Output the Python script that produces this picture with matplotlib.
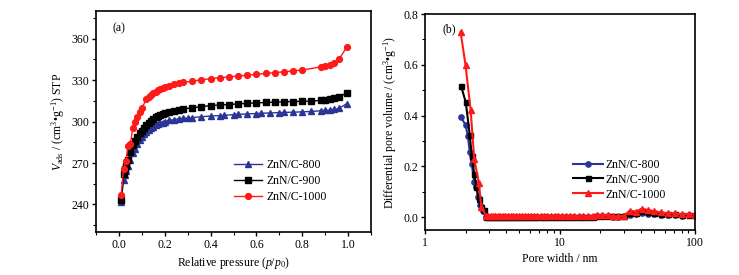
import matplotlib
matplotlib.use("Agg")
import matplotlib.pyplot as plt
from matplotlib.ticker import MultipleLocator, FixedLocator, FixedFormatter, LogLocator, NullFormatter

plt.rcParams["font.family"] = ["Liberation Serif", "DejaVu Serif"]
plt.rcParams["mathtext.fontset"] = "custom"
plt.rcParams["mathtext.rm"] = "Liberation Serif"
plt.rcParams["mathtext.it"] = "Liberation Serif:italic"
FS = 8.5

# ---- (a) N2 adsorption isotherms ----
p_800 = [0.01, 0.02, 0.025, 0.03, 0.04, 0.05, 0.06, 0.07, 0.08, 0.09, 0.10, 0.11,
         0.12, 0.13, 0.14, 0.15, 0.16, 0.17, 0.18, 0.19, 0.20, 0.22, 0.24, 0.26,
         0.28, 0.30, 0.32, 0.36, 0.40, 0.44, 0.46, 0.50, 0.52, 0.56, 0.60, 0.62,
         0.66, 0.70, 0.72, 0.76, 0.80, 0.84, 0.88, 0.90, 0.92, 0.94, 0.96, 0.995]
v_800 = [242, 258, 261, 264, 268, 272, 277, 280, 283.5, 286.5, 289, 291,
         292.5, 294, 295.3, 296.3, 297.2, 298, 298.7, 299.3, 299.8, 300.8, 301.4, 302,
         302.3, 302.5, 302.8, 303.5, 304, 304.3, 304.5, 305, 305.2, 305.5, 305.8, 306,
         306.2, 306.5, 306.6, 306.8, 307, 307.3, 307.8, 308, 308.3, 308.8, 309.5, 313]

p_900 = [0.01, 0.02, 0.025, 0.03, 0.04, 0.05, 0.06, 0.07, 0.08, 0.09, 0.10, 0.11,
         0.12, 0.13, 0.14, 0.15, 0.16, 0.17, 0.18, 0.19, 0.20, 0.22, 0.24, 0.26,
         0.28, 0.32, 0.36, 0.40, 0.44, 0.48, 0.52, 0.56, 0.60, 0.64, 0.68, 0.72,
         0.76, 0.80, 0.84, 0.88, 0.90, 0.92, 0.94, 0.96, 0.995]
v_900 = [243, 262, 266, 268, 272, 278, 283, 286, 289, 291.5, 293.5, 295.5,
         297.5, 299, 300.5, 302, 303, 304, 304.8, 305.5, 306, 307, 307.8, 308.5,
         309, 310, 310.8, 311.5, 312, 312.3, 312.8, 313.2, 313.5, 313.8, 314, 314.3,
         314.5, 314.6, 314.8, 315.3, 315.8, 316.3, 316.8, 317.5, 321]

p_1000 = [0.01, 0.02, 0.03, 0.04, 0.05, 0.06, 0.07, 0.08, 0.09, 0.10, 0.12, 0.13,
          0.14, 0.15, 0.16, 0.17, 0.18, 0.19, 0.20, 0.22, 0.24, 0.26, 0.28, 0.32,
          0.36, 0.40, 0.44, 0.48, 0.52, 0.56, 0.60, 0.64, 0.68, 0.72, 0.76, 0.80,
          0.88, 0.90, 0.92, 0.94, 0.96, 0.995]
v_1000 = [247, 266, 271.5, 282, 284, 295, 300, 303, 307, 310, 316, 317.5,
          319, 320.5, 321.5, 322.5, 323.5, 324.3, 325, 326, 327, 327.8, 328.3, 329.2,
          330.2, 331, 331.8, 332.3, 333, 333.5, 334.2, 334.8, 335.4, 336, 336.7, 337.3,
          339.5, 340.3, 341.2, 342.5, 345, 354]

# ---- (b) pore size distribution ----
pw_tail = [2.85, 2.96, 3.08, 3.2, 3.33, 3.47, 3.62, 3.78, 3.95, 4.13, 4.32, 4.52,
           4.74, 4.97, 5.22, 5.49, 5.78, 6.1, 6.44, 6.8, 7.2, 7.63, 8.1, 8.6, 9.15,
           9.75, 10.4, 11.1, 11.9, 12.8, 13.8, 14.9, 16.1, 17.5, 19.0, 20.7, 22.6,
           24.8, 27.2, 30.0, 33.1, 36.6, 40.6, 45.1, 50.3, 56.3, 63.2, 71.2, 80.5,
           91.3, 100]

pw_800_head = [1.84, 2.0, 2.08, 2.15, 2.22, 2.32, 2.4, 2.48, 2.57, 2.68]
dv_800_head = [0.395, 0.364, 0.32, 0.258, 0.21, 0.14, 0.12, 0.08, 0.05, 0.025]
dv_800_tail = [0.001, 0.001, 0.001, 0.001, 0.001, 0.001, 0.001, 0.001, 0.001, 0.001,
               0.001, 0.001, 0.001, 0.001, 0.001, 0.001, 0.001, 0.001, 0.001, 0.001,
               0.001, 0.001, 0.001, 0.001, 0.001, 0.001, 0.001, 0.001, 0.001, 0.001,
               0.001, 0.001, 0.001, 0.001, 0.003, 0.005, 0.004, 0.002, 0.002, 0.003,
               0.010, 0.011, 0.015, 0.013, 0.011, 0.009, 0.008, 0.008, 0.006, 0.007,
               0.006]

pw_900_head = [1.85, 2.01, 2.15, 2.23, 2.32, 2.41, 2.5, 2.62, 2.76]
dv_900_head = [0.518, 0.452, 0.322, 0.24, 0.17, 0.12, 0.07, 0.04, 0.03]
dv_900_tail = [0.002, 0.002, 0.002, 0.002, 0.002, 0.002, 0.002, 0.002, 0.002, 0.002,
               0.002, 0.002, 0.002, 0.002, 0.002, 0.002, 0.002, 0.002, 0.002, 0.002,
               0.002, 0.002, 0.002, 0.002, 0.002, 0.002, 0.002, 0.002, 0.002, 0.002,
               0.002, 0.002, 0.002, 0.002, 0.004, 0.006, 0.005, 0.003, 0.003, 0.004,
               0.017, 0.016, 0.024, 0.021, 0.017, 0.014, 0.011, 0.012, 0.009, 0.010,
               0.008]

pw_1000_head = [1.84, 2.0, 2.18, 2.32, 2.51, 2.62]
dv_1000_head = [0.728, 0.599, 0.424, 0.23, 0.135, 0.04]
dv_1000_tail = [0.004, 0.004, 0.004, 0.004, 0.004, 0.004, 0.004, 0.004, 0.004, 0.004,
                0.004, 0.004, 0.004, 0.004, 0.004, 0.004, 0.004, 0.004, 0.004, 0.004,
                0.004, 0.004, 0.004, 0.004, 0.004, 0.004, 0.004, 0.004, 0.004, 0.004,
                0.004, 0.004, 0.004, 0.004, 0.007, 0.009, 0.008, 0.004, 0.004, 0.006,
                0.026, 0.022, 0.034, 0.028, 0.023, 0.019, 0.015, 0.016, 0.011, 0.013,
                0.010]

BLUE = "#2a3596"
RED = "#ff1a1a"
BLACK = "#000000"

fig = plt.figure(figsize=(7.39, 2.75), dpi=100)
ax1 = fig.add_axes([0.130, 0.156, 0.372, 0.804])
ax2 = fig.add_axes([0.575, 0.164, 0.365, 0.785])

for ax in (ax1, ax2):
    for s in ax.spines.values():
        s.set_linewidth(1.2)
    ax.tick_params(which="major", direction="out", length=3, width=1, labelsize=FS, pad=2)
    ax.tick_params(which="minor", direction="out", length=2, width=0.8)

# (a)
ax1.plot(p_800, v_800, color=BLUE, marker="^", ms=4.2, lw=1.0, label="ZnN/C-800")
ax1.plot(p_900, v_900, color=BLACK, marker="s", ms=3.8, lw=1.0, label="ZnN/C-900")
ax1.plot(p_1000, v_1000, color=RED, marker="o", ms=4.2, lw=1.0, label="ZnN/C-1000")
ax1.set_xlim(-0.1, 1.1)
ax1.set_ylim(220, 380)
ax1.xaxis.set_minor_locator(MultipleLocator(0.1))
ax1.yaxis.set_major_locator(MultipleLocator(30))
ax1.yaxis.set_minor_locator(MultipleLocator(15))
ax1.set_xticks([0.0, 0.2, 0.4, 0.6, 0.8, 1.0])
ax1.set_xticklabels(["0.0", "0.2", "0.4", "0.6", "0.8", "1.0"])
ax1.set_xlabel("Relative pressure ($p$/$p_0$)", fontsize=FS, labelpad=3)
ax1.set_ylabel("$V_{\\rm ads}$ / (cm$^3$\u2022g$^{-1}$) STP", fontsize=FS, labelpad=3)
ax1.text(0.058, 0.92, "(a)", transform=ax1.transAxes, fontsize=FS, va="center")
ax1.legend(loc="upper left", bbox_to_anchor=(0.5, 0.33), frameon=False,
           fontsize=FS, handlelength=2.4, handletextpad=0.4, labelspacing=0.35,
           borderpad=0, borderaxespad=0)

# (b)
ax2.plot(pw_800_head + pw_tail, dv_800_head + dv_800_tail, color=BLUE, marker="o",
         ms=3.8, lw=1.5, label="ZnN/C-800")
ax2.plot(pw_900_head + pw_tail, dv_900_head + dv_900_tail, color=BLACK, marker="s",
         ms=3.6, lw=1.5, label="ZnN/C-900")
ax2.plot(pw_1000_head + pw_tail, dv_1000_head + dv_1000_tail, color=RED, marker="^",
         ms=4.2, lw=1.5, label="ZnN/C-1000")
ax2.set_xscale("log")
ax2.set_xlim(1, 100)
ax2.set_ylim(-0.05, 0.8)
ax2.xaxis.set_major_locator(FixedLocator([1, 10, 100]))
ax2.xaxis.set_major_formatter(FixedFormatter(["1", "10", "100"]))
ax2.xaxis.set_minor_locator(LogLocator(base=10, subs=(2, 3, 4, 5, 6, 7, 8, 9)))
ax2.xaxis.set_minor_formatter(NullFormatter())
ax2.yaxis.set_minor_locator(MultipleLocator(0.1))
ax2.set_yticks([0.0, 0.2, 0.4, 0.6, 0.8])
ax2.set_yticklabels(["0.0", "0.2", "0.4", "0.6", "0.8"])
ax2.set_xlabel("Pore width / nm", fontsize=FS, labelpad=3)
ax2.set_ylabel("Differential pore volume / (cm$^3$\u2022g$^{-1}$)", fontsize=FS, labelpad=3)
ax2.text(0.067, 0.93, "(b)", transform=ax2.transAxes, fontsize=FS, va="center")
ax2.legend(loc="upper left", bbox_to_anchor=(0.548, 0.33), frameon=False,
           fontsize=FS, handlelength=2.6, handletextpad=0.2, labelspacing=0.25,
           borderpad=0, borderaxespad=0)

fig.savefig("out.png", dpi=100)
